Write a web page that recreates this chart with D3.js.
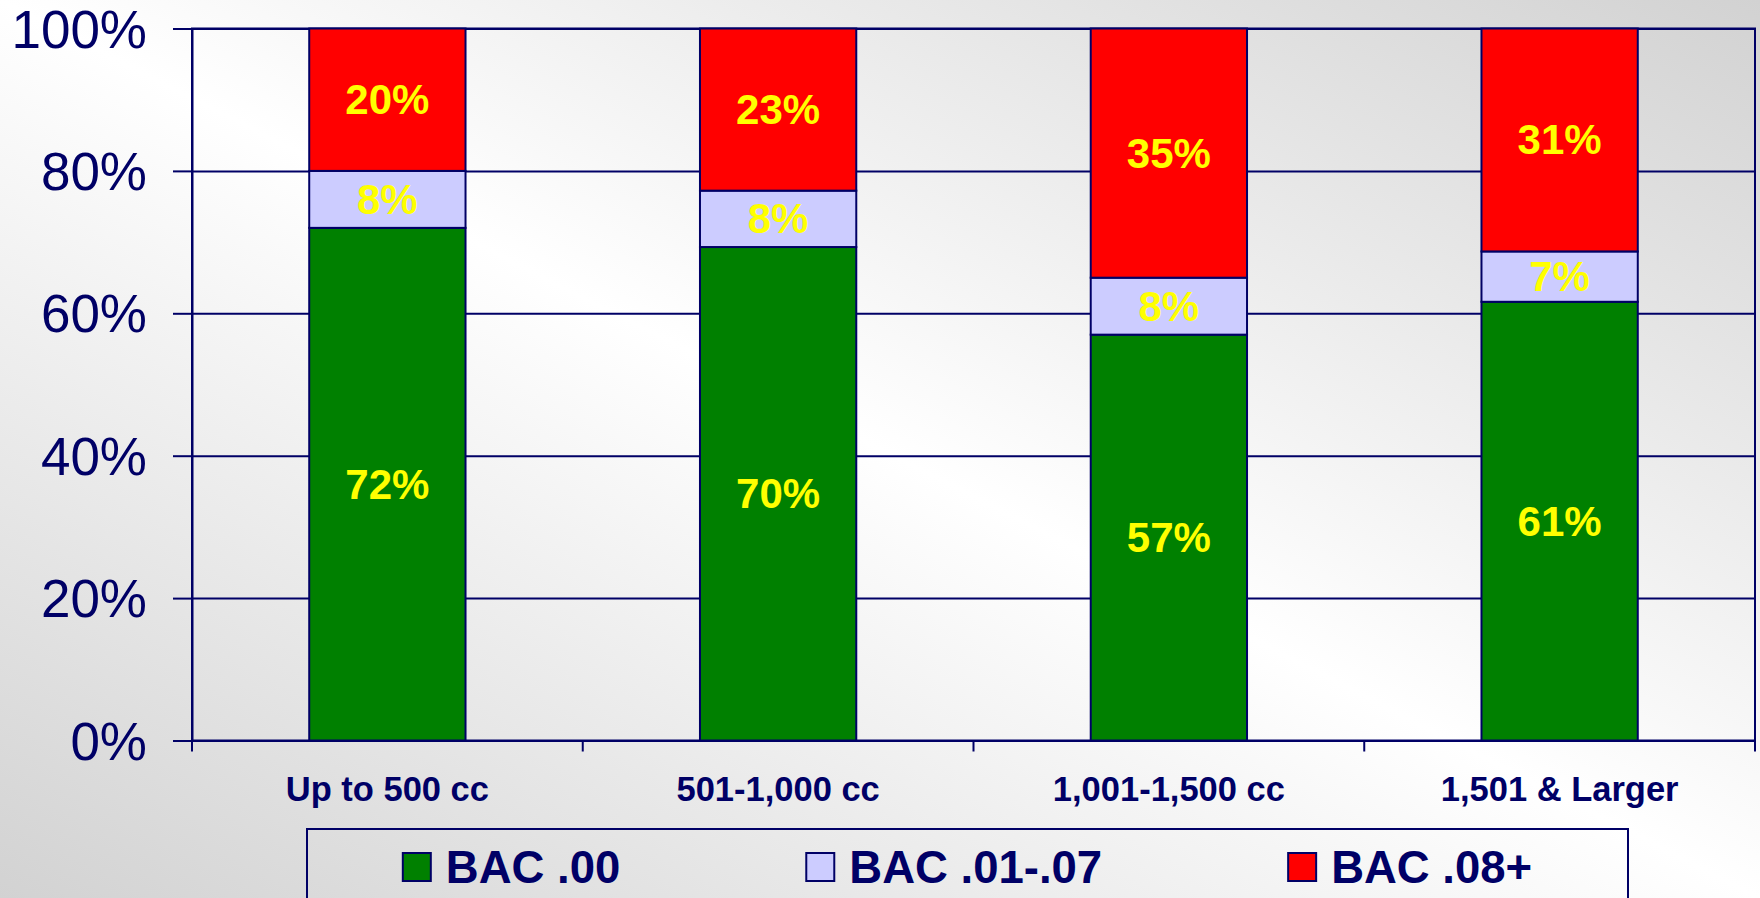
<!DOCTYPE html>
<html>
<head>
<meta charset="utf-8">
<script src="https://cdn.jsdelivr.net/npm/d3@7"></script>
<style>
  html, body { margin: 0; padding: 0; overflow: hidden; }
  svg { display: block; font-family: Arial, "Liberation Sans", sans-serif; }
</style>
</head>
<body>
<div id="chart"></div>
<script>
// Chart data
const categories = ["Up to 500 cc", "501-1,000 cc", "1,001-1,500 cc", "1,501 & Larger"];
const seriesNames = ["BAC .00", "BAC .01-.07", "BAC .08+"];
const bac00 = [72, 70, 57, 61];
const bac01to07 = [8, 8, 8, 7];
const bac08plus = [20, 23, 35, 31];
const yTickValues = [0, 0.2, 0.4, 0.6, 0.8, 1];
const seriesColors = ["#008000", "#ccccff", "#ff0000"];

let width = 1760;
let height = 898;
let navy = "#000066";

// plot area
let plotLeft = 192, plotRight = 1755, plotTop = 28.5, plotBottom = 740.5;

// table for the stack
let rows = categories.map(function(c, i){
    let r = {category: c};
    r[seriesNames[0]] = bac00[i];
    r[seriesNames[1]] = bac01to07[i];
    r[seriesNames[2]] = bac08plus[i];
    return r;
});

let stacked = d3.stack()
.keys(seriesNames)
.offset(d3.stackOffsetExpand)(rows);

let x = d3.scaleBand()
.domain(categories)
.range([plotLeft, plotRight])
.paddingInner(0.6)
.paddingOuter(0.3);

let y = d3.scaleLinear()
.domain([0, 1])
.range([plotBottom, plotTop]);

let color = d3.scaleOrdinal()
.domain(seriesNames)
.range(seriesColors);

let svg = d3.select('#chart')
.append('svg')
.attr('width', width)
.attr('height', height);

// background gradient, grey corners bottom-left / top-right
let grad = svg.append('defs').append('linearGradient')
.attr('id', 'bg')
.attr('x1', 0).attr('y1', 1)
.attr('x2', 1).attr('y2', 0);
grad.append('stop').attr('offset', '0%').attr('stop-color', '#d2d2d2');
grad.append('stop').attr('offset', '50%').attr('stop-color', '#ffffff');
grad.append('stop').attr('offset', '100%').attr('stop-color', '#d2d2d2');

svg.append('rect')
.attr('width', width)
.attr('height', height)
.attr('fill', 'url(#bg)');

// horizontal grid lines
svg.append('g')
.attr('transform', 'translate(' + plotLeft + ',0)')
.call(d3.axisLeft(y).tickValues(yTickValues).tickSize(-(plotRight - plotLeft)).tickFormat(''))
.call(function(g){ g.select('.domain').remove(); })
.selectAll('line')
.attr('stroke', navy)
.attr('stroke-width', 2);

// plot border
svg.append('rect')
.attr('x', plotLeft)
.attr('y', plotTop)
.attr('width', plotRight - plotLeft)
.attr('height', plotBottom - plotTop)
.attr('fill', 'none')
.attr('stroke', navy)
.attr('stroke-width', 2);

// bars
let layers = svg.append('g')
.selectAll('g')
.data(stacked)
.enter()
.append('g')
.attr('fill', function(d){ return color(d.key); });

layers.selectAll('rect')
.data(function(d){ return d; })
.enter()
.append('rect')
.attr('x', function(d){ return x(d.data.category); })
.attr('y', function(d){ return y(d[1]); })
.attr('width', x.bandwidth())
.attr('height', function(d){ return y(d[0]) - y(d[1]); })
.attr('stroke', navy)
.attr('stroke-width', 2);

// value labels
stacked.forEach(function(layer){
    svg.append('g')
    .selectAll('text')
    .data(layer)
    .enter()
    .append('text')
    .attr('x', function(d){ return x(d.data.category) + x.bandwidth() / 2; })
    .attr('y', function(d){ return (y(d[0]) + y(d[1])) / 2; })
    .attr('text-anchor', 'middle')
    .attr('dominant-baseline', 'central')
    .attr('fill', '#ffff00')
    .style('font-size', '42px')
    .style('font-weight', 'bold')
    .text(function(d){ return d.data[layer.key] + '%'; });
});

// y axis
let yAxis = svg.append('g')
.attr('transform', 'translate(' + plotLeft + ',0)')
.call(d3.axisLeft(y).tickValues(yTickValues).tickSize(19).tickSizeOuter(0).tickPadding(26).tickFormat(d3.format('.0%')));
yAxis.select('.domain').attr('stroke', navy).attr('stroke-width', 2);
yAxis.selectAll('line').attr('stroke', navy).attr('stroke-width', 2);
yAxis.selectAll('text')
.attr('fill', navy)
.attr('dy', '0.35em')
.style('font-size', '53px')
.style('font-family', 'Arial, "Liberation Sans", sans-serif');

// x axis: labels centred, ticks on category boundaries
let xAxis = svg.append('g')
.attr('transform', 'translate(0,' + plotBottom + ')')
.call(d3.axisBottom(x).tickSize(0).tickSizeOuter(0).tickPadding(48));
xAxis.select('.domain').attr('stroke', navy).attr('stroke-width', 2);
xAxis.selectAll('text')
.attr('fill', navy)
.attr('dy', '0.35em')
.style('font-size', '34.5px')
.style('font-weight', 'bold')
.style('font-family', 'Arial, "Liberation Sans", sans-serif');

let boundaries = d3.range(categories.length + 1).map(function(i){
    return plotLeft + i * x.step();
});
svg.append('g')
.selectAll('line')
.data(boundaries)
.enter()
.append('line')
.attr('x1', function(d){ return d; })
.attr('x2', function(d){ return d; })
.attr('y1', plotBottom)
.attr('y2', plotBottom + 11)
.attr('stroke', navy)
.attr('stroke-width', 2);

// legend
let legendX = 307, legendY = 829, legendW = 1321, legendH = 120;
svg.append('rect')
.attr('x', legendX)
.attr('y', legendY)
.attr('width', legendW)
.attr('height', legendH)
.attr('fill', 'none')
.attr('stroke', navy)
.attr('stroke-width', 2);

let legend = svg.append('g');
let box = 28, boxGap = 15, itemGap = 186;
let items = legend.selectAll('g')
.data(seriesNames)
.enter()
.append('g');

items.append('rect')
.attr('y', legendY + 24)
.attr('width', box)
.attr('height', box)
.attr('fill', function(d){ return color(d); })
.attr('stroke', navy)
.attr('stroke-width', 2);

items.append('text')
.attr('x', box + boxGap)
.attr('y', legendY + 38)
.attr('dominant-baseline', 'central')
.attr('fill', navy)
.style('font-size', '45.5px')
.style('font-weight', 'bold')
.text(function(d){ return d; });

// lay out the items side by side and centre them in the box
let cursor = 0;
items.each(function(){
    let w = box + boxGap + this.querySelector('text').getComputedTextLength();
    d3.select(this).attr('data-x', cursor);
    cursor += w + itemGap;
});
let total = cursor - itemGap;
let start = legendX + (legendW - total) / 2;
items.attr('transform', function(){
    return 'translate(' + (start + parseFloat(this.dataset.x)) + ',0)';
});
</script>
</body>
</html>
